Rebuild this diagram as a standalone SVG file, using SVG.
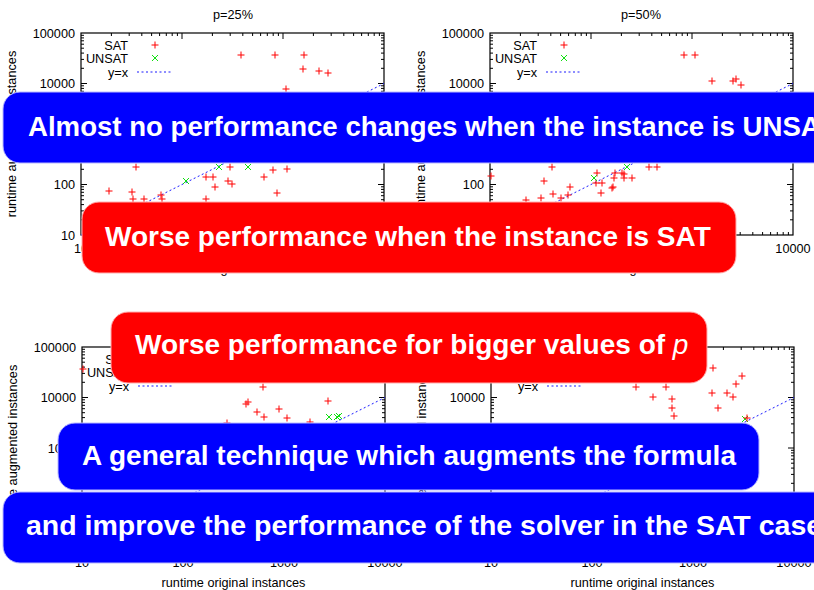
<svg xmlns="http://www.w3.org/2000/svg" width="814" height="590" viewBox="0 0 814 590">
<style>
.fr{fill:none;stroke:#000;stroke-width:1.2}
.tk{fill:none;stroke:#000;stroke-width:1}
.t{font-family:"Liberation Sans",Arial,sans-serif;font-size:12.7px;fill:#000}
.e{text-anchor:end}
.m{text-anchor:middle}
.sat{fill:none;stroke:#f00;stroke-width:1}
.uns{fill:none;stroke:#10e010;stroke-width:1}
.yx{fill:none;stroke:#1a1aff;stroke-width:1;stroke-dasharray:2 2.5}
.bb{fill:#0000ff;stroke:#b8b8ff;stroke-width:1}
.rb{fill:#ff0000;stroke:#ffb0b0;stroke-width:1}
.ct{font-family:"Liberation Sans",Arial,sans-serif;font-size:28px;font-weight:bold;fill:#fff}
.mi{font-style:italic;font-weight:normal}
</style>
<defs>
<path id="plus" class="sat" d="M-3.5 0h7M0 -3.5v7"/>
<path id="cross" class="uns" d="M-3 -3l6 6M-3 3l6 -6"/>
<path id="xt" class="tk" d="M182 235v-6M283 235v-6M111.4 235v-3M129.2 235v-3M141.8 235v-3M151.6 235v-3M159.6 235v-3M166.3 235v-3M172.2 235v-3M177.4 235v-3M212.4 235v-3M230.2 235v-3M242.8 235v-3M252.6 235v-3M260.6 235v-3M267.3 235v-3M273.2 235v-3M278.4 235v-3M313.4 235v-3M331.2 235v-3M343.8 235v-3M353.6 235v-3M361.6 235v-3M368.3 235v-3M374.2 235v-3M379.4 235v-3"/>
<path id="yt" class="tk" d="M81 83.5h6M81 134h6M81 184.5h6M81 219.8h3M81 210.9h3M81 204.6h3M81 199.7h3M81 195.7h3M81 192.3h3M81 189.4h3M81 186.8h3M81 169.3h3M81 160.4h3M81 154.1h3M81 149.2h3M81 145.2h3M81 141.8h3M81 138.9h3M81 136.3h3M81 118.8h3M81 109.9h3M81 103.6h3M81 98.7h3M81 94.7h3M81 91.3h3M81 88.4h3M81 85.8h3M81 68.3h3M81 59.4h3M81 53.1h3M81 48.2h3M81 44.2h3M81 40.8h3M81 37.9h3M81 35.3h3"/>
<g id="axes">
<rect class="fr" x="81" y="33" width="303" height="202"/>
<use href="#xt"/>
<use href="#xt" transform="matrix(1 0 0 -1 0 268)"/>
<use href="#yt"/>
<use href="#yt" transform="matrix(-1 0 0 1 465 0)"/>
<text class="t e" x="75" y="37.5">100000</text>
<text class="t e" x="75" y="88">10000</text>
<text class="t e" x="75" y="138.5">1000</text>
<text class="t e" x="75" y="189">100</text>
<text class="t e" x="75" y="239.5">10</text>
<text class="t m" x="81" y="252.5">10</text>
<text class="t m" x="182" y="252.5">100</text>
<text class="t m" x="283" y="252.5">1000</text>
<text class="t m" x="384" y="252.5">10000</text>
<text class="t m" x="232.5" y="272.5">runtime original instances</text>
<text class="t m" transform="translate(16 134) rotate(-90)">runtime augmented instances</text>
<text class="t e" x="128" y="50">SAT</text>
<use href="#plus" x="155" y="45"/>
<text class="t e" x="128" y="63">UNSAT</text>
<use href="#cross" x="155" y="58"/>
<text class="t e" x="128" y="77">y=x</text>
<path class="yx" d="M137 72H172"/>
<path class="yx" d="M81 235L384 83.5"/>
</g>
</defs>
<rect width="814" height="590" fill="#fff"/>

<g id="plot-top-left">
<use href="#axes"/>
<text class="t m" x="233" y="19">p=25%</text>
<g id="pts-tl">
<use href="#plus" x="241" y="55"/><use href="#plus" x="275" y="55"/><use href="#plus" x="304" y="55"/>
<use href="#plus" x="303" y="69"/><use href="#plus" x="319" y="71"/><use href="#plus" x="328" y="73"/>
<use href="#plus" x="286" y="89"/>
<use href="#plus" x="136" y="167"/><use href="#plus" x="230" y="167"/><use href="#plus" x="273" y="170"/>
<use href="#plus" x="287" y="169"/><use href="#plus" x="264" y="177"/><use href="#plus" x="213" y="177"/>
<use href="#plus" x="206" y="177"/><use href="#plus" x="228" y="181"/><use href="#plus" x="232" y="184"/>
<use href="#plus" x="215" y="187"/><use href="#plus" x="161" y="195"/><use href="#plus" x="132" y="192"/>
<use href="#plus" x="109" y="191"/><use href="#plus" x="277" y="193"/><use href="#plus" x="133" y="199"/>
<use href="#plus" x="144" y="199"/><use href="#plus" x="162" y="199"/><use href="#plus" x="206" y="199"/>
<use href="#cross" x="186" y="181"/><use href="#cross" x="219" y="167"/><use href="#cross" x="248" y="167"/>
</g>
</g>

<g id="plot-top-right">
<use href="#axes" transform="translate(409 0)"/>
<text class="t m" x="641" y="19">p=50%</text>
<g id="pts-tr">
<use href="#plus" x="684" y="55"/><use href="#plus" x="695" y="55"/><use href="#plus" x="712" y="81"/>
<use href="#plus" x="733" y="81"/><use href="#plus" x="736" y="79"/><use href="#plus" x="741" y="85"/>
<use href="#plus" x="552" y="167"/><use href="#plus" x="491" y="176"/><use href="#plus" x="544" y="181"/>
<use href="#plus" x="570" y="187"/><use href="#plus" x="597" y="173"/><use href="#plus" x="596" y="183"/>
<use href="#plus" x="602" y="183"/><use href="#plus" x="601" y="193"/><use href="#plus" x="614" y="178"/>
<use href="#plus" x="615" y="173"/><use href="#plus" x="622" y="173"/><use href="#plus" x="624" y="174"/>
<use href="#plus" x="632" y="178"/><use href="#plus" x="624" y="178"/><use href="#plus" x="613" y="187"/>
<use href="#plus" x="612" y="188"/><use href="#plus" x="649" y="167"/><use href="#plus" x="657" y="167"/>
<use href="#plus" x="553" y="194"/><use href="#plus" x="568" y="195"/><use href="#plus" x="541" y="198"/>
<use href="#plus" x="561" y="198"/><use href="#plus" x="526" y="200"/>
<use href="#cross" x="594" y="178"/><use href="#cross" x="627" y="167"/>
</g>
</g>

<g id="plot-bottom-left">
<use href="#axes" transform="translate(1 314)"/>
<g id="pts-bl">
<use href="#plus" x="83" y="369"/><use href="#plus" x="263" y="387"/><use href="#plus" x="246" y="404"/>
<use href="#plus" x="248" y="402"/><use href="#plus" x="257" y="412"/><use href="#plus" x="264" y="417"/>
<use href="#plus" x="279" y="409"/><use href="#plus" x="287" y="418"/><use href="#plus" x="328" y="401"/>
<use href="#plus" x="310" y="422"/><use href="#plus" x="227" y="423"/>
<use href="#cross" x="329" y="417"/><use href="#cross" x="337" y="417"/><use href="#cross" x="339" y="416"/>
</g>
</g>

<g id="plot-bottom-right">
<use href="#axes" transform="translate(410 314)"/>
<g id="pts-br">
<use href="#plus" x="713" y="368"/><use href="#plus" x="742" y="376"/><use href="#plus" x="736" y="384"/>
<use href="#plus" x="712" y="393"/><use href="#plus" x="727" y="393"/><use href="#plus" x="733" y="397"/>
<use href="#plus" x="718" y="408"/><use href="#plus" x="653" y="397"/><use href="#plus" x="672" y="399"/>
<use href="#plus" x="672" y="408"/><use href="#plus" x="674" y="416"/><use href="#plus" x="636" y="387"/>
<use href="#plus" x="666" y="387"/>
<use href="#cross" x="745" y="419"/><use href="#plus" x="747" y="418"/>
</g>
</g>

<g id="callouts">
<g id="box-unsat">
<rect class="bb" x="3" y="92" width="860" height="71" rx="17"/>
<text class="ct" x="28" y="136" style="font-size:27.6px">Almost no performance changes when the instance is UNSAT</text>
</g>
<g id="box-sat-worse">
<rect class="rb" x="82" y="202" width="654" height="71" rx="17"/>
<text class="ct" x="105" y="246">Worse performance when the instance is SAT</text>
</g>
<g id="box-bigger-p">
<rect class="rb" x="111" y="312" width="596" height="71" rx="17"/>
<text class="ct" x="135" y="354">Worse performance for bigger values of <tspan class="mi">p</tspan></text>
</g>
<g id="box-technique">
<rect class="bb" x="58" y="423" width="701" height="67" rx="17"/>
<text class="ct" x="82" y="465">A general technique which augments the formula</text>
</g>
<g id="box-improve">
<rect class="bb" x="3" y="492" width="860" height="71" rx="17"/>
<text class="ct" x="26" y="535" style="font-size:28.5px">and improve the performance of the solver in the SAT case</text>
</g>
</g>
</svg>
